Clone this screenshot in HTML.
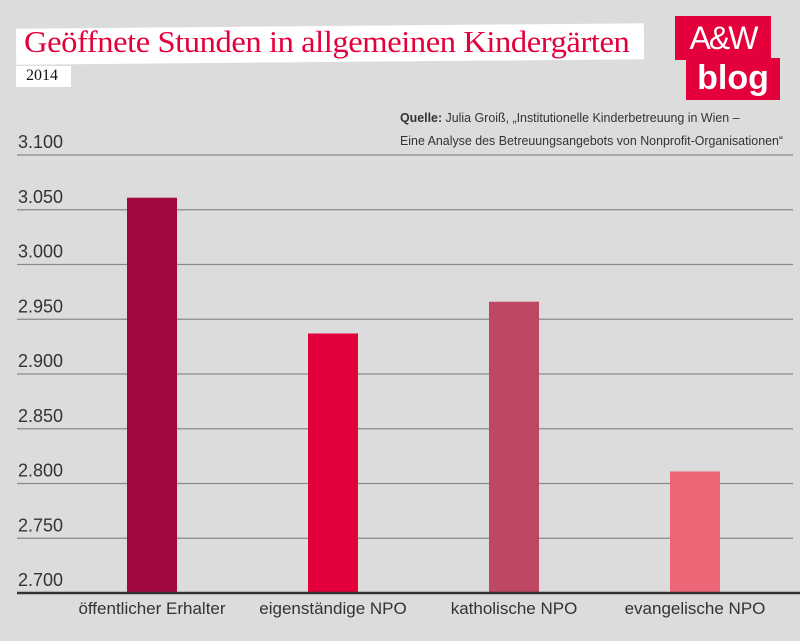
<!DOCTYPE html>
<html><head><meta charset="utf-8"><style>
body{margin:0;background:#dcdcdc;}
#wrap{position:relative;width:800px;height:641px;background:#dcdcdc;overflow:hidden;font-family:"Liberation Sans",sans-serif;}
.abs{position:absolute;}
</style></head><body>
<div id="wrap">
<div class="abs" style="left:16px;top:26px;width:628px;height:36px;background:#fff;transform:rotate(-0.5deg);"></div>
<div class="abs" style="left:24px;top:24px;font-family:'Liberation Serif',serif;font-size:31px;color:#e4003b;letter-spacing:-0.4px;white-space:nowrap;transform:scaleX(1.05);transform-origin:left;">Geöffnete Stunden in allgemeinen Kindergärten</div>
<div class="abs" style="left:16px;top:66px;width:55px;height:21px;background:#fff;"></div>
<div class="abs" style="left:26px;top:67px;font-family:'Liberation Serif',serif;font-size:16px;color:#111;">2014</div>
<div class="abs" style="left:675px;top:16px;width:96px;height:44px;background:#e4003b;color:#fff;font-size:32px;text-align:center;line-height:44px;letter-spacing:-2px;">A&amp;W</div>
<div class="abs" style="left:686px;top:58px;width:94px;height:42px;background:#e4003b;color:#fff;font-size:34px;font-weight:bold;text-align:center;line-height:40px;">blog</div>
<div class="abs" style="left:400px;top:106px;font-size:13px;color:#333;line-height:23px;white-space:nowrap;transform:scaleX(0.955);transform-origin:left;"><b>Quelle:</b> Julia Groiß, „Institutionelle Kinderbetreuung in Wien –<br>Eine Analyse des Betreuungsangebots von Nonprofit-Organisationen“</div>
<svg class="abs" style="left:0;top:0" width="800" height="641" id="chart"></svg>
</div>
<script>
const categories=["öffentlicher Erhalter","eigenständige NPO","katholische NPO","evangelische NPO"];
const values=[3061,2937,2966,2811];
const colors=["#a10841","#e4003b","#be4862","#ec6677"];
const ticks=[2700,2750,2800,2850,2900,2950,3000,3050,3100];
const tickLabels=["2.700","2.750","2.800","2.850","2.900","2.950","3.000","3.050","3.100"];
const svg=document.getElementById('chart');
const NS='http://www.w3.org/2000/svg';
const y0=593,y1=155,vmin=2700,vmax=3100;
function yScale(v){return y0-(v-vmin)/(vmax-vmin)*(y0-y1);}
function xCenter(i){return 152+i*181;}
function mk(t,a){const e=document.createElementNS(NS,t);for(const k in a)e.setAttribute(k,a[k]);svg.appendChild(e);return e;}
ticks.forEach((t,i)=>{
 if(i>0){const l=mk('line',{x1:17,x2:793,y1:yScale(t),y2:yScale(t),stroke:'#8a8a8a','stroke-width':1.2});
 
 }
 const tx=mk('text',{x:18,y:yScale(t)-7,'font-size':18,fill:'#333','font-family':'Liberation Sans, sans-serif'});
 tx.textContent=tickLabels[i];
 
 
});
values.forEach((v,i)=>{
 const r=mk('rect',{x:xCenter(i)-25,y:yScale(v),width:50,height:y0-yScale(v),fill:colors[i]});
 
 
 const tx=mk('text',{x:xCenter(i),y:614,'font-size':17,fill:'#333','text-anchor':'middle','font-family':'Liberation Sans, sans-serif'});
 tx.textContent=categories[i];
 
 
});
const ax=mk('line',{x1:17,x2:800,y1:y0,y2:y0,stroke:'#333','stroke-width':2.5});


</script>
</body></html>
